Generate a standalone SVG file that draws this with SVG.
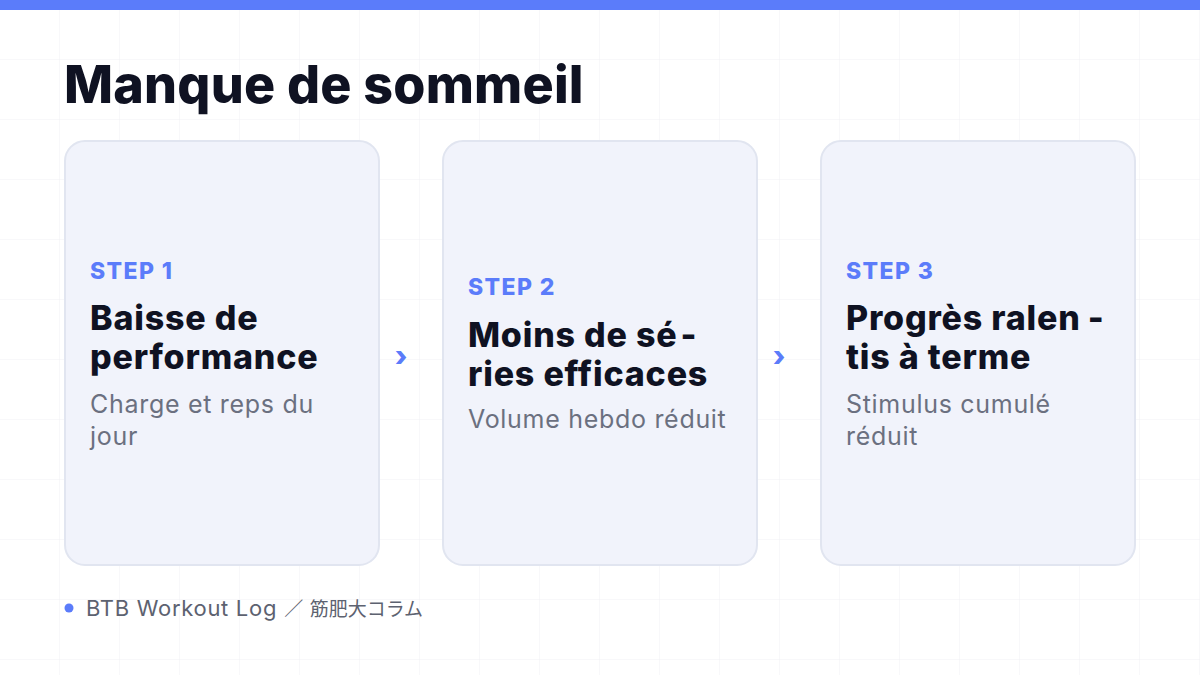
<svg xmlns="http://www.w3.org/2000/svg" width="1200" height="675" viewBox="0 0 1200 675">
<defs>
<pattern id="grid" width="60" height="60" patternUnits="userSpaceOnUse">
<path d="M60 0V60M0 60H60" fill="none" stroke="#f0f1f5" stroke-width="1"/>
</pattern>
</defs>
<style>
.card{fill:#f1f3fb;stroke:#e1e5f0;stroke-width:2}
.step{font-family:Inter,"Noto Sans",sans-serif;font-weight:800;font-size:23px;letter-spacing:1.4px;fill:#5b7cfa}
.ttl{font-family:Inter,"Noto Sans",sans-serif;font-weight:800;font-size:34px;letter-spacing:0.8px;fill:#0f1222}
.desc{font-family:Inter,"Noto Sans",sans-serif;font-weight:400;font-size:25px;letter-spacing:0.7px;fill:#6b7080}
.chev{font-family:Inter,"Noto Sans",sans-serif;font-weight:800;font-size:28px;fill:#5b7cfa}
.cjk{font-family:"Noto Sans CJK JP",sans-serif;font-size:19px;letter-spacing:0}
</style>
<rect width="1200" height="675" fill="#ffffff"/>
<rect width="1200" height="675" fill="url(#grid)"/>
<rect width="1200" height="10" fill="#5b7cfa"/>
<text x="64" y="103" font-family="Inter,'Noto Sans',sans-serif" font-weight="800" font-size="52" letter-spacing="0.2" fill="#0f1222">Manque de sommeil</text>
<g id="step1">
<rect class="card" x="65" y="141" width="314" height="424" rx="20"/>
<text class="step" x="90" y="279">STEP 1</text>
<text class="ttl" x="90" y="330">Baisse de</text>
<text class="ttl" x="90" y="369">performance</text>
<text class="desc" x="90" y="413">Charge et reps du</text>
<text class="desc" x="90" y="445">jour</text>
</g>
<g id="step2">
<rect class="card" x="443" y="141" width="314" height="424" rx="20"/>
<text class="step" x="468" y="295">STEP 2</text>
<text class="ttl" x="468" y="347">Moins de sé<tspan dx="3">-</tspan></text>
<text class="ttl" x="468" y="386">ries efficaces</text>
<text class="desc" x="468" y="428">Volume hebdo réduit</text>
</g>
<g id="step3">
<rect class="card" x="821" y="141" width="314" height="424" rx="20"/>
<text class="step" x="846" y="279">STEP 3</text>
<text class="ttl" x="846" y="330">Progrès ralen<tspan dx="7">-</tspan></text>
<text class="ttl" x="846" y="369">tis à terme</text>
<text class="desc" x="846" y="413">Stimulus cumulé</text>
<text class="desc" x="846" y="445">réduit</text>
</g>
<g id="connectors">
<text class="chev" x="401" y="366" text-anchor="middle">›</text>
<text class="chev" x="779" y="366" text-anchor="middle">›</text>
</g>
<g id="footer">
<circle cx="69" cy="608" r="4.5" fill="#5b7cfa"/>
<text x="86" y="616" font-family="Inter,'Noto Sans CJK JP',sans-serif" font-size="22" letter-spacing="0.7" fill="#5d6270">BTB Workout Log<tspan class="cjk" dx="3"> ／ </tspan><tspan class="cjk" dx="2">筋肥大コラム</tspan></text>
</g>
</svg>
